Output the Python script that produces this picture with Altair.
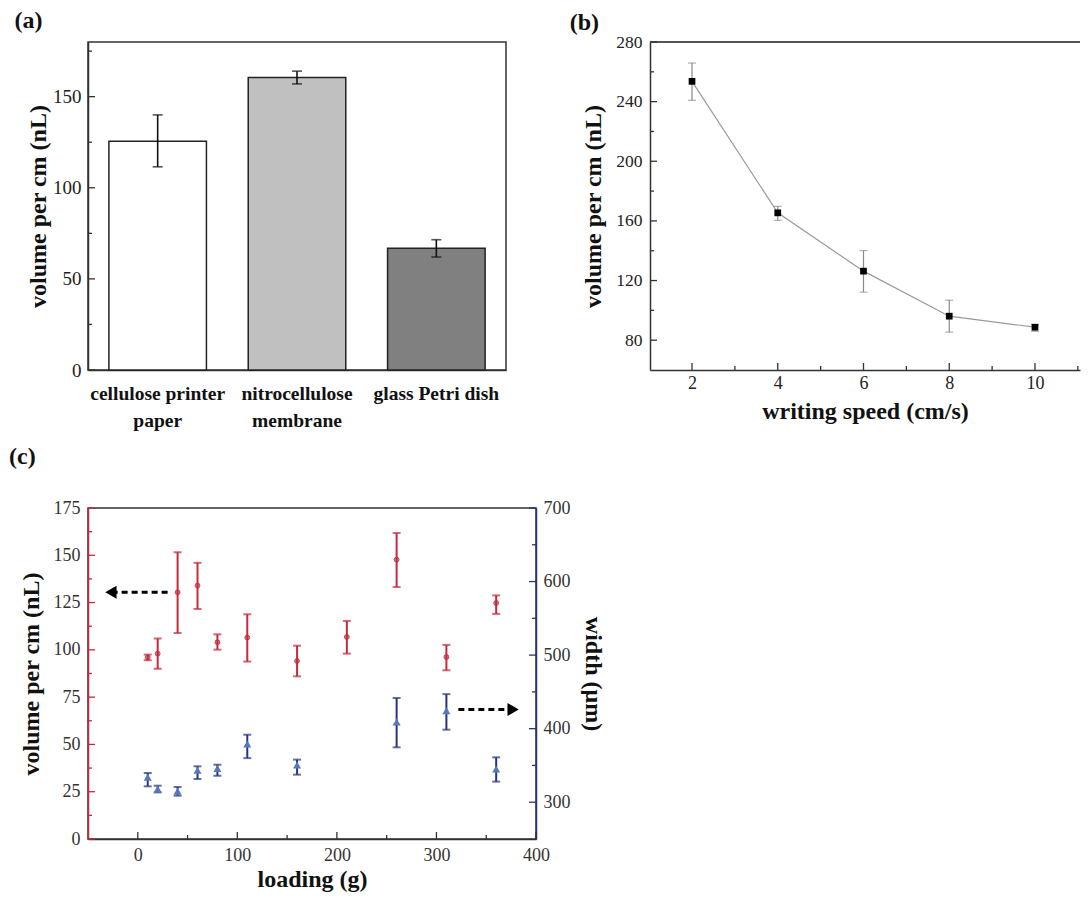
import altair as alt
import pandas as pd

FONT = "Liberation Serif"

# ---------------- Panel (a) ----------------
a_cats = ["cellulose printer paper", "nitrocellulose membrane", "glass Petri dish"]
a_lines = [["cellulose printer", "paper"], ["nitrocellulose", "membrane"], ["glass Petri dish"]]
a_mean = [125.5, 160.5, 66.8]
a_lo = [111.5, 157.0, 62.0]
a_hi = [140.0, 164.0, 71.5]
a_fill = ["#ffffff", "#c0c0c0", "#808080"]
a_ymajor = [0, 50, 100, 150]
a_yminor = [25, 75, 125, 175]

# ---------------- Panel (b) ----------------
b_speed = [2, 4, 6, 8, 10]
b_mean = [253.6, 165.4, 126.3, 96.1, 88.7]
b_lo = [240.9, 160.4, 112.2, 85.4, 86.0]
b_hi = [265.9, 169.8, 140.1, 106.8, 90.5]
b_xmajor = [2, 4, 6, 8, 10]
b_xminor = [3, 5, 7, 9, 11]
b_ymajor = [80, 120, 160, 200, 240, 280]
b_yminor = [100, 140, 180, 220, 260]

# ---------------- Panel (c) ----------------
c_load_v = [10, 20, 40, 60, 80, 110, 160, 210, 260, 310, 360]
c_vol = [96.0, 98.0, 130.4, 134.0, 104.0, 106.5, 94.1, 106.8, 147.7, 96.2, 124.8]
c_vol_lo = [94.5, 90.0, 108.9, 121.6, 100.1, 93.8, 86.0, 98.0, 133.2, 89.2, 119.0]
c_vol_hi = [97.5, 106.0, 151.6, 146.0, 108.2, 118.8, 102.2, 115.3, 161.8, 102.6, 128.8]
c_load_w = [10, 20, 40, 60, 80, 110, 160, 260, 310, 360]
c_width = [333.8, 318.0, 314.8, 343.4, 346.0, 379.0, 350.6, 409.0, 424.5, 345.0]
c_w_lo = [321.6, 313.4, 308.9, 331.6, 336.0, 360.0, 337.5, 374.6, 398.6, 328.0]
c_w_hi = [339.7, 322.5, 320.7, 348.8, 351.0, 391.8, 357.9, 441.7, 447.0, 361.0]
c_xmajor = [0, 100, 200, 300, 400]
c_xminor = [50, 150, 250, 350]
c_lmajor = [0, 25, 50, 75, 100, 125, 150, 175]
c_lminor = [12.5, 37.5, 62.5, 87.5, 112.5, 137.5, 162.5]
c_rmajor = [300, 400, 500, 600, 700]
c_rminor = [350, 450, 550, 650]
# dashed arrows (loading start, loading end, volume level, head position, head shape)
arr_x1 = [30, 322]
arr_x2 = [-22, 372]
arr_y = [130.5, 68.5]
arr_head = [-27, 377]
arr_shape = ["triangle-left", "triangle-right"]

RED = "#c42a3c"
RED_PT = "#d9808a"
BLUE = "#26347e"
BLUE_PT = "#5577bb"
AX = "#333333"

A_W, A_H = 418, 328
B_W, B_H = 430, 328
C_W, C_H = 448, 331
MAJ, MIN = 7, 4


def lab_axis(**kw):
    base = dict(grid=False, ticks=False, tickSize=0, labelFont=FONT, labelColor="#222",
                titleFont=FONT, titleFontWeight="bold", titleColor="#111",
                domainColor=AX, domainWidth=1.5)
    base.update(kw)
    return alt.Axis(**base)


def yticks(vals, size, color, scale, axis, right_w=None):
    df = pd.DataFrame({"t": vals})
    if right_w is None:
        xe = dict(x=alt.value(0), x2=alt.value(size))
    else:
        xe = dict(x=alt.value(right_w), x2=alt.value(right_w - size))
    return alt.Chart(df).mark_rule(color=color, strokeWidth=1.3).encode(
        y=alt.Y("t:Q", scale=scale, axis=axis), **xe)


def xticks(vals, size, color, scale, axis, h):
    df = pd.DataFrame({"u": vals})
    return alt.Chart(df).mark_rule(color=color, strokeWidth=1.3).encode(
        x=alt.X("u:Q", scale=scale, axis=axis),
        y=alt.value(h), y2=alt.value(h - size))


def panel_title(t, dx=0, offset=10):
    return alt.TitleParams(t, anchor="start", frame="bounds", font=FONT, fontSize=24,
                           fontWeight="bold", color="#111", offset=offset, dx=dx)


# ---------- (a) ----------
a_df = pd.DataFrame({"cat": a_cats, "mean": a_mean, "lo": a_lo, "hi": a_hi, "fill": a_fill})
expr = "datum.label"
for cat, lines in zip(reversed(a_cats), reversed(a_lines)):
    arr = "[" + ",".join("'" + s + "'" for s in lines) + "]"
    expr = f"datum.label == '{cat}' ? {arr} : ({expr})"

a_yscale = alt.Scale(domain=[0, 180], nice=False, zero=True)
a_xaxis = lab_axis(title=None, labelAngle=0, labelExpr=expr, labelBaseline="middle",
                   labelPadding=23, labelFontSize=19.5, labelFontWeight="bold",
                   labelColor="#111", labelLineHeight=27, labelLimit=0)
a_yaxis = lab_axis(title="volume per cm (nL)", values=a_ymajor, labelFontSize=19,
                   labelPadding=7, titleFontSize=24, titlePadding=2)
xa = alt.X("cat:N", sort=a_cats, scale=alt.Scale(paddingInner=0.3, paddingOuter=0.15), axis=a_xaxis)
ya = alt.Y("mean:Q", scale=a_yscale, axis=a_yaxis)
a_bars = alt.Chart(a_df).mark_bar(stroke="#222", strokeWidth=1.5).encode(
    x=xa, y=ya, fill=alt.Fill("fill:N", scale=None))
a_rule = alt.Chart(a_df).mark_rule(color="#111", strokeWidth=1.6).encode(
    x=xa, y=alt.Y("lo:Q", scale=a_yscale, axis=a_yaxis), y2="hi:Q")
a_cap_lo = alt.Chart(a_df).mark_tick(color="#111", size=10, thickness=1.6, orient="horizontal").encode(
    x=xa, y=alt.Y("lo:Q", scale=a_yscale, axis=a_yaxis))
a_cap_hi = alt.Chart(a_df).mark_tick(color="#111", size=10, thickness=1.6, orient="horizontal").encode(
    x=xa, y=alt.Y("hi:Q", scale=a_yscale, axis=a_yaxis))
chart_a = alt.layer(
    a_bars, a_rule, a_cap_lo, a_cap_hi,
    yticks(a_ymajor, MAJ, AX, a_yscale, a_yaxis),
    yticks(a_yminor, MIN, AX, a_yscale, a_yaxis),
).properties(width=A_W, height=A_H, title=panel_title("(a)", dx=-12, offset=9))

# ---------- (b) ----------
b_df = pd.DataFrame({"speed": b_speed, "mean": b_mean, "lo": b_lo, "hi": b_hi})
b_xscale = alt.Scale(domain=[1.02, 11.05], nice=False, zero=False)
b_yscale = alt.Scale(domain=[60, 280], nice=False, zero=False)
b_xaxis = lab_axis(title="writing speed (cm/s)", values=b_xmajor, labelFontSize=18,
                   labelPadding=4, titleFontSize=24, titlePadding=7, labelFlush=False)
b_yaxis = lab_axis(title="volume per cm (nL)", values=b_ymajor, labelFontSize=17.5,
                   labelPadding=8, titleFontSize=24, titlePadding=10)
xb = alt.X("speed:Q", scale=b_xscale, axis=b_xaxis)
yb = alt.Y("mean:Q", scale=b_yscale, axis=b_yaxis)
b_line = alt.Chart(b_df).mark_line(color="#9a9a9a", strokeWidth=1.2).encode(x=xb, y=yb)
b_rule = alt.Chart(b_df).mark_rule(color="#8a8a8a", strokeWidth=1.2).encode(
    x=xb, y=alt.Y("lo:Q", scale=b_yscale, axis=b_yaxis), y2="hi:Q")
b_cap_lo = alt.Chart(b_df).mark_tick(color="#8a8a8a", size=8, thickness=1.2, orient="horizontal").encode(
    x=xb, y=alt.Y("lo:Q", scale=b_yscale, axis=b_yaxis))
b_cap_hi = alt.Chart(b_df).mark_tick(color="#8a8a8a", size=8, thickness=1.2, orient="horizontal").encode(
    x=xb, y=alt.Y("hi:Q", scale=b_yscale, axis=b_yaxis))
b_pts = alt.Chart(b_df).mark_point(shape="square", filled=True, color="#000", size=45, opacity=1).encode(
    x=xb, y=yb)
b_top = alt.Chart(b_df).mark_rule(color="#555", strokeWidth=1.3).encode(
    x=alt.value(0), x2=alt.value(B_W), y=alt.value(0))
chart_b = alt.layer(
    b_line, b_rule, b_cap_lo, b_cap_hi, b_pts, b_top,
    yticks(b_ymajor, MAJ, AX, b_yscale, b_yaxis),
    yticks(b_yminor, MIN, AX, b_yscale, b_yaxis),
    xticks(b_xmajor, MAJ, AX, b_xscale, b_xaxis, B_H),
    xticks(b_xminor, MIN, AX, b_xscale, b_xaxis, B_H),
).properties(width=B_W, height=B_H, title=panel_title("(b)", dx=-12, offset=-2),
             view=alt.ViewBackground(strokeOpacity=0))

# ---------- (c) ----------
cv = pd.DataFrame({"load": c_load_v, "vol": c_vol, "lo": c_vol_lo, "hi": c_vol_hi})
cw = pd.DataFrame({"load": c_load_w, "w": c_width, "lo": c_w_lo, "hi": c_w_hi})
arr = pd.DataFrame({"x1": arr_x1, "x2": arr_x2, "y": arr_y, "hx": arr_head, "shape": arr_shape})
c_xscale = alt.Scale(domain=[-50, 400], nice=False, zero=False)
c_lscale = alt.Scale(domain=[0, 175], nice=False, zero=False)
c_rscale = alt.Scale(domain=[250, 700], nice=False, zero=False)
c_xaxis = lab_axis(title="loading (g)", values=c_xmajor, labelFontSize=18, labelColor="#333",
                   labelPadding=7, titleFontSize=24, titlePadding=3, labelFlush=False)
c_laxis = lab_axis(title="volume per cm (nL)", values=c_lmajor, labelFontSize=18, labelColor="#333",
                   labelPadding=8, titleFontSize=24, titlePadding=10, domainColor=RED)
c_raxis = lab_axis(title="width (μm)", values=c_rmajor, orient="right", labelFontSize=18,
                   labelColor="#333", labelPadding=7, titleFontSize=24, titlePadding=10,
                   domainColor=BLUE)
xs = alt.X("load:Q", scale=c_xscale, axis=c_xaxis)
yl = alt.Y("vol:Q", scale=c_lscale, axis=c_laxis)
yr = alt.Y("w:Q", scale=c_rscale, axis=c_raxis)

red_rule = alt.Chart(cv).mark_rule(color=RED, strokeWidth=2).encode(
    x=xs, y=alt.Y("lo:Q", scale=c_lscale, axis=c_laxis), y2="hi:Q")
red_lo = alt.Chart(cv).mark_tick(color=RED, size=8, thickness=2, orient="horizontal").encode(
    x=xs, y=alt.Y("lo:Q", scale=c_lscale, axis=c_laxis))
red_hi = alt.Chart(cv).mark_tick(color=RED, size=8, thickness=2, orient="horizontal").encode(
    x=xs, y=alt.Y("hi:Q", scale=c_lscale, axis=c_laxis))
red_pts = alt.Chart(cv).mark_point(shape="circle", filled=True, color=RED_PT, size=24, opacity=1,
                                   stroke=RED, strokeWidth=0.8).encode(x=xs, y=yl)
arr_line = alt.Chart(arr).mark_rule(color="#000", strokeWidth=3, strokeDash=[6, 4]).encode(
    x=alt.X("x1:Q", scale=c_xscale, axis=c_xaxis), x2="x2:Q",
    y=alt.Y("y:Q", scale=c_lscale, axis=c_laxis))
arr_tip = alt.Chart(arr).mark_point(filled=True, color="#000", size=170, opacity=1).encode(
    x=alt.X("hx:Q", scale=c_xscale, axis=c_xaxis), y=alt.Y("y:Q", scale=c_lscale, axis=c_laxis),
    shape=alt.Shape("shape:N", scale=None))
left = alt.layer(
    red_pts, red_rule, red_lo, red_hi, arr_line, arr_tip,
    yticks(c_lmajor, MAJ, RED, c_lscale, c_laxis),
    yticks(c_lminor, MIN, RED, c_lscale, c_laxis),
    xticks(c_xmajor, MAJ, AX, c_xscale, c_xaxis, C_H),
    xticks(c_xminor, MIN, AX, c_xscale, c_xaxis, C_H),
)

blue_rule = alt.Chart(cw).mark_rule(color=BLUE, strokeWidth=2).encode(
    x=xs, y=alt.Y("lo:Q", scale=c_rscale, axis=c_raxis), y2="hi:Q")
blue_lo = alt.Chart(cw).mark_tick(color=BLUE, size=8, thickness=2, orient="horizontal").encode(
    x=xs, y=alt.Y("lo:Q", scale=c_rscale, axis=c_raxis))
blue_hi = alt.Chart(cw).mark_tick(color=BLUE, size=8, thickness=2, orient="horizontal").encode(
    x=xs, y=alt.Y("hi:Q", scale=c_rscale, axis=c_raxis))
blue_pts = alt.Chart(cw).mark_point(shape="triangle-up", filled=True, color=BLUE_PT, size=65,
                                    opacity=1).encode(x=xs, y=yr)
right = alt.layer(
    blue_rule, blue_lo, blue_hi, blue_pts,
    yticks(c_rmajor, MAJ, BLUE, c_rscale, c_raxis, right_w=C_W),
    yticks(c_rminor, MIN, BLUE, c_rscale, c_raxis, right_w=C_W),
)

chart_c = alt.layer(left, right).resolve_scale(y="independent").properties(
    width=C_W, height=C_H, title=panel_title("(c)", dx=-10, offset=30))

row1 = alt.hconcat(chart_a, chart_b, spacing=62)
chart = alt.vconcat(row1, chart_c, spacing=13).properties(
    padding=0
).configure_view(stroke=AX, strokeWidth=1.5)

chart.save("out.html", embed_options={"renderer": "svg", "actions": False})
